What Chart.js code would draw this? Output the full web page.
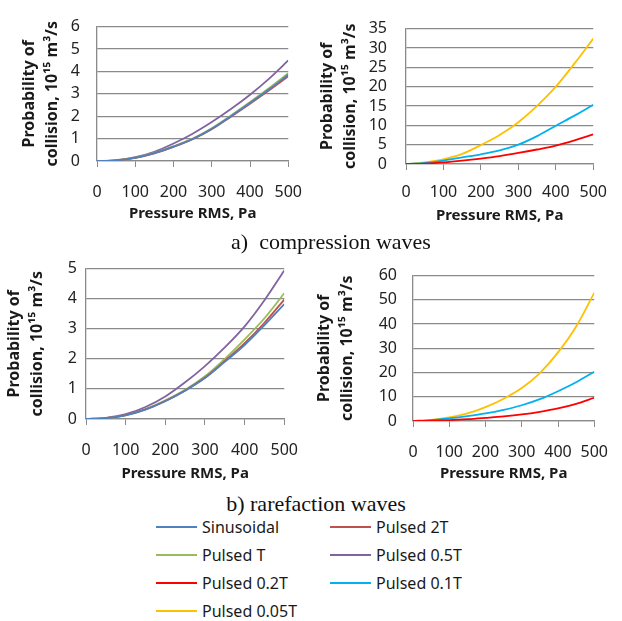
<!DOCTYPE html>
<html>
<head>
<meta charset="utf-8">
<script src="https://cdn.jsdelivr.net/npm/chart.js@4.4.1/dist/chart.umd.min.js"></script>
<style>
body { margin:0; width:622px; height:621px; background:#fff; position:relative; overflow:hidden; font-family:"Noto Sans", sans-serif; }
canvas { position:absolute; }
.cap { position:absolute; font-family:"Liberation Serif", serif; font-size:22px; color:#111; white-space:nowrap; transform:translate(-50%,-50%); }
.leg { position:absolute; height:20px; display:flex; align-items:center; font-size:16px; color:#1a1a1a; white-space:nowrap; transform:translateY(-50%); }
.leg span.ln { display:inline-block; width:41px; height:2px; margin-right:5px; }
</style>
</head>
<body>
<canvas id="c1" width="318" height="225" style="left:0;top:0"></canvas>
<canvas id="c2" width="320" height="228" style="left:300px;top:0"></canvas>
<canvas id="c3" width="314" height="235" style="left:0;top:250px"></canvas>
<canvas id="c4" width="324" height="235" style="left:300px;top:250px"></canvas>
<div class="cap" style="left:331px;top:242px">a)&nbsp; compression waves</div>
<div class="cap" style="left:316px;top:504px">b) rarefaction waves</div>
<div id="legend"></div>
<script>
// pressure RMS, Pa
const pressure = [0, 50, 100, 150, 200, 250, 300, 350, 400, 450, 500];

// a) compression waves
const compSinusoidal = [0, 0.03, 0.14, 0.35, 0.64, 0.98, 1.44, 2.0, 2.59, 3.2, 3.85];
const comp2T   = [0, 0.03, 0.14, 0.34, 0.63, 0.97, 1.42, 1.98, 2.56, 3.16, 3.78];
const compT    = [0, 0.03, 0.15, 0.36, 0.66, 1.0, 1.46, 2.03, 2.63, 3.26, 3.92];
const comp05T  = [0, 0.04, 0.17, 0.41, 0.78, 1.22, 1.74, 2.32, 2.96, 3.68, 4.49];
const comp02T  = [0, 0.1, 0.4, 0.85, 1.4, 2.05, 2.85, 3.75, 4.75, 6.1, 7.65];
const comp01T  = [0, 0.3, 0.9, 1.7, 2.5, 3.5, 5.0, 7.2, 9.9, 12.5, 15.3];
const comp005T = [0, 0.4, 1.2, 2.6, 4.9, 7.5, 10.8, 15.0, 20.0, 26.0, 32.4];

// b) rarefaction waves
const rareSinusoidal = [0, 0.03, 0.12, 0.31, 0.59, 0.94, 1.36, 1.9, 2.46, 3.12, 3.82];
const rare2T   = [0, 0.03, 0.13, 0.32, 0.6, 0.95, 1.38, 1.93, 2.52, 3.2, 3.97];
const rareT    = [0, 0.03, 0.13, 0.33, 0.62, 0.97, 1.42, 2.0, 2.65, 3.35, 4.18];
const rare05T  = [0, 0.04, 0.16, 0.4, 0.75, 1.22, 1.76, 2.38, 3.08, 3.95, 4.94];
const rare02T  = [0, 0.1, 0.35, 0.75, 1.3, 1.9, 2.7, 3.8, 5.2, 7.1, 9.6];
const rare01T  = [0, 0.4, 1.1, 2.0, 3.1, 4.6, 6.5, 9.0, 12.3, 16.0, 20.3];
const rare005T = [0, 0.5, 1.5, 3.1, 5.7, 9.2, 13.6, 19.8, 28.3, 39.0, 52.9];

const seriesNames = ['Sinusoidal', 'Pulsed 2T', 'Pulsed T', 'Pulsed 0.5T', 'Pulsed 0.2T', 'Pulsed 0.1T', 'Pulsed 0.05T'];
const seriesColors = ['#4F81BD', '#C0504D', '#9BBB59', '#8064A2', '#FF0000', '#00B0F0', '#FFC000'];

const yTitle = ['Probability of', 'collision, 10¹⁵ m³/s'];
const xTitle = 'Pressure RMS, Pa';

function makeChart(id, box, plot, ymax, ystep, idx, values, titlePad, tickGap, xPad, xTitlePad) {
  let datasets = idx.map(function(k, i) {
    return {
      label: seriesNames[k],
      data: pressure.map((p, j) => ({x: p, y: values[i][j]})),
      borderColor: seriesColors[k],
      borderWidth: 1.8,
      pointRadius: 0,
      cubicInterpolationMode: 'monotone',
      fill: false
    };
  });
  return new Chart(document.getElementById(id).getContext('2d'), {
    type: 'line',
    data: { datasets: datasets },
    options: {
      responsive: false,
      animation: false,
      devicePixelRatio: 1,
      layout: { padding: { left: 0, top: plot.t - box.y, right: box.x + box.w - plot.r, bottom: 0 } },
      plugins: { legend: { display: false }, tooltip: { enabled: false } },
      scales: {
        x: {
          type: 'linear', min: 0, max: 500,
          ticks: { stepSize: 100, autoSkip: false, padding: xPad, color: '#222', font: { family: 'Noto Sans', size: 16 } },
          grid: { drawOnChartArea: false, drawTicks: true, tickLength: 6, color: '#8a8a8a' },
          border: { color: '#8a8a8a', width: 1.3 },
          title: { display: true, text: xTitle, color: '#1a1a1a', padding: { top: 0, bottom: xTitlePad },
                   font: { family: 'Noto Sans', size: 15, weight: 'bold' } },
          afterFit: function(s) { s.height = box.y + box.h - plot.b; }
        },
        y: {
          min: 0, max: ymax,
          ticks: { stepSize: ystep, autoSkip: false, padding: tickGap, color: '#222', font: { family: 'Noto Sans', size: 16 } },
          grid: { drawTicks: false, color: '#8a8a8a', lineWidth: 1.3 },
          border: { color: '#8a8a8a', width: 1.3 },
          title: { display: true, text: yTitle, color: '#1a1a1a', padding: { top: titlePad, bottom: 0 },
                   font: { family: 'Noto Sans', size: 16, weight: 'bold', lineHeight: 1.45 } },
          afterFit: function(s) { s.width = plot.l - box.x; }
        }
      }
    }
  });
}

makeChart('c1', {x:0, y:0, w:318, h:225}, {l:97, r:300, t:15, b:161}, 6, 1,
  [0, 1, 2, 3], [compSinusoidal, comp2T, compT, comp05T], 18, 17, 16, 2);
makeChart('c2', {x:300, y:0, w:320, h:228}, {l:406, r:601, t:17, b:164}, 35, 5,
  [4, 5, 6], [comp02T, comp01T, comp005T], 16, 19, 13, 3);
makeChart('c3', {x:0, y:250, w:314, h:235}, {l:86, r:295, t:267, b:419}, 5, 1,
  [0, 1, 2, 3], [rareSinusoidal, rare2T, rareT, rare05T], 3, 9, 16, 2);
makeChart('c4', {x:300, y:250, w:324, h:235}, {l:413, r:607, t:271, b:421}, 60, 10,
  [4, 5, 6], [rare02T, rare01T, rare005T], 13, 16, 16, 2);

// legend, two columns
const legend = document.getElementById('legend');
const rowY = [527, 555, 583, 611];
const colX = [156, 330];
seriesNames.forEach(function(name, i) {
  const d = document.createElement('div');
  d.className = 'leg';
  d.style.left = colX[i % 2] + 'px';
  d.style.top = rowY[Math.floor(i / 2)] + 'px';
  d.innerHTML = '<span class="ln" style="background:' + seriesColors[i] + '"></span>' + name;
  legend.appendChild(d);
});
</script>
</body>
</html>
